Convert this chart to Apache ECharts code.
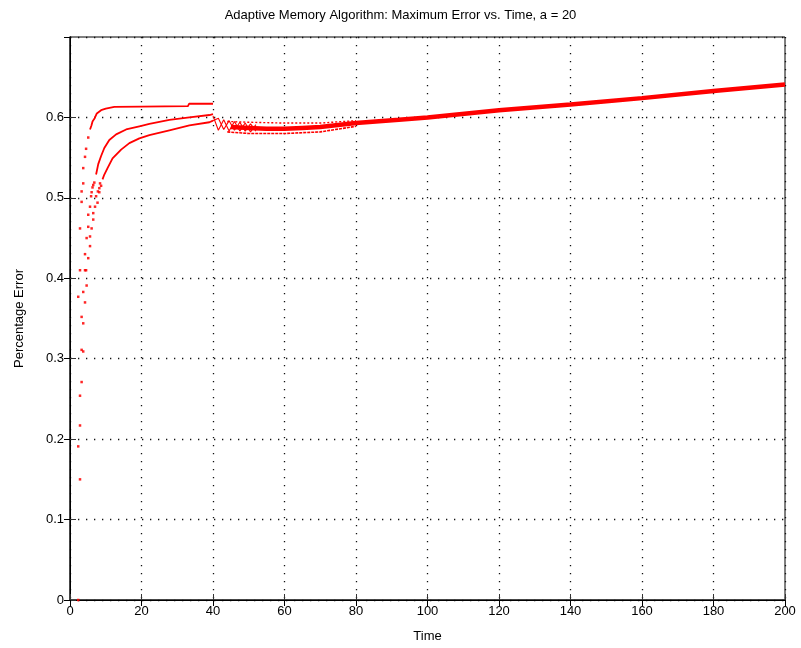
<!DOCTYPE html>
<html>
<head>
<meta charset="utf-8">
<script src="https://cdn.jsdelivr.net/npm/echarts@6/dist/echarts.min.js"></script>
<style>
  html, body { margin: 0; padding: 0; background: #fff; }
  #chart { width: 801px; height: 648px; }
</style>
</head>
<body>
<div id="chart"></div>
<script>
// Axis ticks
const xTicks = [0, 20, 40, 60, 80, 100, 120, 140, 160, 180, 200];
const yTicks = [0, 0.1, 0.2, 0.3, 0.4, 0.5, 0.6];

// Sparse samples during the initial rise (time, max error)
const riseDots = [
  [2.3, 0.000], [2.3, 0.191], [2.3, 0.377],
  [2.8, 0.150], [2.8, 0.217], [2.8, 0.254], [2.8, 0.410], [2.8, 0.462],
  [3.25, 0.271], [3.25, 0.311], [3.25, 0.352], [3.25, 0.495], [3.25, 0.508],
  [3.7, 0.309], [3.7, 0.344], [3.7, 0.383], [3.7, 0.518], [3.7, 0.537],
  [4.2, 0.370], [4.2, 0.410], [4.2, 0.430], [4.2, 0.551],
  [4.5, 0.410], [4.5, 0.561],
  [4.65, 0.391], [4.65, 0.450],
  [5.1, 0.425], [5.1, 0.464], [5.1, 0.479], [5.1, 0.575],
  [5.6, 0.440], [5.6, 0.452], [5.6, 0.489],
  [5.9, 0.502], [6.05, 0.462], [6.05, 0.507],
  [6.3, 0.513], [6.5, 0.473], [6.5, 0.481], [6.5, 0.516],
  [6.8, 0.519], [7.0, 0.489], [7.3, 0.502], [7.7, 0.494],
  [7.8, 0.508], [8.2, 0.507], [8.2, 0.512], [8.4, 0.518], [8.7, 0.515]
];

// Three branches before t = 40
const upperBranch = [
  [5.6, 0.585], [6.0, 0.590], [6.3, 0.595], [6.9, 0.599], [7.5, 0.605],
  [8.7, 0.609], [10, 0.611], [12.4, 0.613], [20, 0.6135], [33, 0.614],
  [33.3, 0.617], [40, 0.617]
];
const middleBranch = [
  [7.3, 0.529], [7.9, 0.542], [8.7, 0.552], [9.6, 0.562], [11, 0.572],
  [12.9, 0.579], [15.7, 0.585], [19.4, 0.589], [22.2, 0.592], [27.8, 0.597],
  [33.4, 0.600], [39, 0.603], [40, 0.604]
];
const lowerBranch = [
  [9.1, 0.523], [9.6, 0.529], [10.5, 0.537], [11.9, 0.549], [14.3, 0.560],
  [16.6, 0.568], [19.4, 0.574], [22.2, 0.578], [27.8, 0.584], [33.4, 0.590],
  [39, 0.594], [40, 0.596]
];

// Transient oscillation just after t = 40
const zigA = [
  [40, 0.602], [41.5, 0.584], [43, 0.597], [44.5, 0.583], [46, 0.595],
  [47.5, 0.583], [49, 0.593], [50.5, 0.582], [52, 0.591]
];
const zigB = [
  [40, 0.596], [41.5, 0.599], [43, 0.585], [44.5, 0.596], [46, 0.584],
  [47.5, 0.594], [49, 0.583], [50.5, 0.592], [52, 0.583]
];
const bandTop = [[44, 0.595], [50, 0.594], [60, 0.593], [70, 0.593], [80, 0.596]];
const bandBottom = [[44, 0.582], [50, 0.580], [60, 0.580], [70, 0.582], [80, 0.589]];

// Long-run growth of the error
const trend = [
  [45, 0.588], [50, 0.587], [55, 0.586], [60, 0.586], [65, 0.587],
  [70, 0.588], [80, 0.593], [92, 0.597], [100, 0.600], [120, 0.609],
  [140, 0.616], [160, 0.624], [180, 0.633], [200, 0.641]
];

const RED = '#ff0000';
const FONT = 'Liberation Sans';

function lineSeries(data, width, type) {
  return {
    type: 'line', data: data, showSymbol: false, silent: true,
    xAxisIndex: 0, yAxisIndex: 0,
    lineStyle: { color: RED, width: width, type: type || 'solid' },
    z: 3
  };
}

const chart = echarts.init(document.getElementById('chart'), null, { renderer: 'canvas' });

const gridLine = { show: true, lineStyle: { color: '#111', width: 1.3, type: [1.3, 6.7] } };

chart.setOption({
  animation: false,
  backgroundColor: '#fff',
  title: {
    text: 'Adaptive Memory Algorithm: Maximum Error vs. Time, a = 20',
    left: 'center', top: 4,
    textStyle: { fontFamily: FONT, fontSize: 13, fontWeight: 'normal', color: '#000' }
  },
  grid: { left: 70, right: 16, top: 37, bottom: 47, show: true, borderColor: '#000', borderWidth: 1, backgroundColor: '#fff' },
  xAxis: [
    {
      type: 'value', min: xTicks[0], max: xTicks[xTicks.length - 1], interval: 20,
      name: 'Time', nameLocation: 'middle', nameGap: 30,
      nameTextStyle: { fontFamily: FONT, fontSize: 13, color: '#000' },
      axisLine: { show: true, lineStyle: { color: '#333', width: 1.5 } },
      axisTick: { show: true, inside: true, length: 6, lineStyle: { color: '#333' } },
      axisLabel: { fontFamily: FONT, fontSize: 13, color: '#000', margin: 5 },
      splitLine: gridLine
    },
    {
      type: 'value', position: 'top', min: 0, max: 200, interval: 20,
      axisLine: { show: true, lineStyle: { color: '#000', width: 1 } },
      axisTick: { show: true, inside: true, length: 6, lineStyle: { color: '#000' } },
      axisLabel: { show: false }, splitLine: { show: false }
    }
  ],
  yAxis: [
    {
      type: 'value', min: 0, max: 0.7, interval: 0.1,
      name: 'Percentage Error', nameLocation: 'middle', nameGap: 44,
      nameTextStyle: { fontFamily: FONT, fontSize: 13, color: '#000' },
      axisLine: { show: true, lineStyle: { color: '#333', width: 1.5 } },
      axisTick: { show: true, inside: true, length: 6, lineStyle: { color: '#333' } },
      axisLabel: {
        fontFamily: FONT, fontSize: 13, color: '#000', margin: 6, showMaxLabel: false,
        formatter: v => String(+v.toFixed(1))
      },
      splitLine: gridLine
    },
    {
      type: 'value', position: 'right', min: 0, max: 0.7, interval: 0.1,
      axisLine: { show: true, lineStyle: { color: '#000', width: 1 } },
      axisTick: { show: true, inside: true, length: 6, lineStyle: { color: '#000' } },
      axisLabel: { show: false }, splitLine: { show: false }
    }
  ],
  series: [
    {
      type: 'scatter', data: riseDots, symbol: 'rect', symbolSize: 2.5, silent: true,
      itemStyle: { color: RED, opacity: 0.85 }, z: 3
    },
    lineSeries(upperBranch, 1.8),
    lineSeries(middleBranch, 1.8),
    lineSeries(lowerBranch, 1.8),
    lineSeries(zigA, 1.1),
    lineSeries(zigB, 1.1),
    lineSeries(bandTop, 1.4, [2, 2]),
    lineSeries(bandBottom, 1.6, [3, 1]),
    lineSeries(trend, 4.5)
  ]
});
</script>
</body>
</html>
